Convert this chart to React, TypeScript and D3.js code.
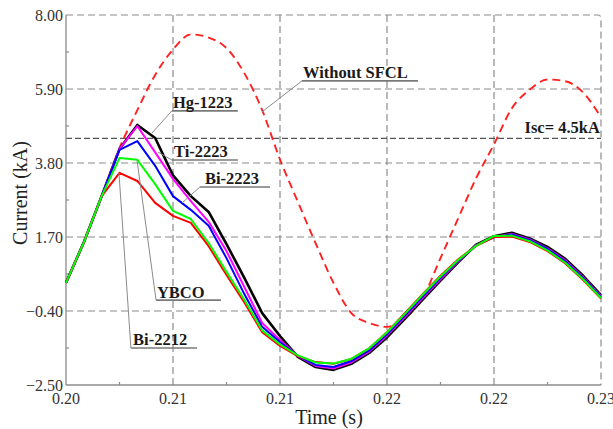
import React from 'react';
import * as d3 from 'd3';

// ---- data (time in s, current in kA) ----
const TIME = [
  0.200, 0.201, 0.202, 0.203, 0.204, 0.205, 0.206, 0.207, 0.208, 0.209,
  0.210, 0.211, 0.212, 0.213, 0.214, 0.215, 0.216, 0.217, 0.218, 0.219,
  0.220, 0.221, 0.222, 0.223, 0.224, 0.225, 0.226, 0.227, 0.228, 0.229, 0.230,
];

const WITHOUT_SFCL = [
  0.40, 1.55, 2.86, 4.22, 5.30, 6.30, 7.02, 7.45, 7.36, 7.06,
  6.35, 5.30, 3.90, 2.70, 1.52, 0.40, -0.46, -0.74, -0.85, -0.60,
  -0.03, 1.10, 2.24, 3.37, 4.33, 5.35, 5.88, 6.17, 6.12, 5.80, 5.10,
];

const HG_1223 = [
  0.40, 1.55, 2.86, 4.20, 4.88, 4.51, 3.45, 2.86, 2.41, 1.50,
  0.54, -0.46, -1.11, -1.70, -1.99, -2.07, -1.90, -1.59, -1.15, -0.62,
  -0.08, 0.46, 0.99, 1.48, 1.72, 1.82, 1.66, 1.42, 1.08, 0.60, 0.05,
];

const TI_2223 = [
  0.40, 1.55, 2.86, 4.20, 4.85, 4.10, 3.35, 2.72, 2.13, 1.30,
  0.28, -0.74, -1.22, -1.68, -1.96, -2.03, -1.86, -1.55, -1.10, -0.57,
  -0.03, 0.50, 1.01, 1.47, 1.70, 1.79, 1.63, 1.38, 1.04, 0.56, 0.02,
];

const BI_2223 = [
  0.40, 1.55, 2.86, 4.17, 4.42, 3.72, 2.86, 2.47, 2.02, 1.10,
  0.08, -0.85, -1.28, -1.67, -1.93, -1.99, -1.82, -1.52, -1.06, -0.53,
  0.01, 0.54, 1.03, 1.46, 1.69, 1.77, 1.61, 1.36, 1.01, 0.53, 0.00,
];

const YBCO = [
  0.40, 1.55, 2.86, 3.94, 3.89, 3.20, 2.44, 2.21, 1.53, 0.71,
  -0.08, -0.95, -1.35, -1.66, -1.86, -1.89, -1.76, -1.46, -1.01, -0.48,
  0.06, 0.58, 1.05, 1.45, 1.73, 1.74, 1.58, 1.32, 0.97, 0.50, -0.03,
];

const BI_2212 = [
  0.40, 1.55, 2.86, 3.52, 3.29, 2.67, 2.30, 2.10, 1.44, 0.62,
  -0.16, -1.00, -1.39, -1.68, -1.85, -1.90, -1.76, -1.46, -1.00, -0.46,
  0.08, 0.60, 1.07, 1.45, 1.70, 1.71, 1.56, 1.30, 0.95, 0.48, -0.05,
];

const Y_TICKS = [8.0, 5.9, 3.8, 1.7, -0.4, -2.5];
const X_TICKS = [0.200, 0.206, 0.212, 0.218, 0.224, 0.230];
const ISC_LEVEL = 4.5;
const ISC_LABEL = 'Isc= 4.5kA';

// annotation anchors in data units
const ANNOTATIONS = [
  { text: 'Without SFCL', tx: 0.21329, ty: 6.21, u0: 0.21323, u1: 0.21974, uy: 6.13, px: 0.21099, py: 5.25 },
  { text: 'Hg-1223', tx: 0.20600, ty: 5.36, u0: 0.20594, u1: 0.20964, uy: 5.28, px: 0.20482, py: 4.65 },
  { text: 'Ti-2223', tx: 0.20606, ty: 3.97, u0: 0.20594, u1: 0.20964, uy: 3.885, px: 0.20516, py: 4.11 },
  { text: 'Bi-2223', tx: 0.20779, ty: 3.20, u0: 0.20751, u1: 0.21144, uy: 3.12, px: 0.20651, py: 2.67 },
  { text: 'YBCO', tx: 0.20510, ty: -0.03, u0: 0.20505, u1: 0.20869, uy: -0.09, px: 0.20398, py: 3.89 },
  { text: 'Bi-2212', tx: 0.20376, ty: -1.365, u0: 0.20364, u1: 0.20735, uy: -1.45, px: 0.20297, py: 3.52 },
];

const SERIES = [
  { name: 'Hg-1223', values: HG_1223, color: '#000000', width: 2.6 },
  { name: 'Ti-2223', values: TI_2223, color: '#ff00ff', width: 2 },
  { name: 'Bi-2223', values: BI_2223, color: '#0000ff', width: 2 },
  { name: 'Bi-2212', values: BI_2212, color: '#ff0000', width: 2 },
  { name: 'YBCO', values: YBCO, color: '#00ff00', width: 2 },
];

const FONT = 'Liberation Serif, DejaVu Serif, serif';

export default function App() {
  const W = 613;
  const H = 429;
  const x = d3.scaleLinear().domain([0.2, 0.23]).range([66, 601]);
  const y = d3.scaleLinear().domain([-2.5, 8]).range([385, 15]);
  const fmt = d3.format('.2f');

  const lineGen = (vals: number[], curve = d3.curveLinear) =>
    d3
      .line<number>()
      .x((_, i) => x(TIME[i]))
      .y((d) => y(d))
      .curve(curve)(vals) || '';

  const gridColor = '#8c8c8c';
  const x0 = x(0.2), x1 = x(0.23), y0 = y(-2.5), y1 = y(8);

  const xMinor = X_TICKS.slice(0, -1).map((t, i) => (t + X_TICKS[i + 1]) / 2);
  const yMinor = Y_TICKS.slice(0, -1).map((v, i) => (v + Y_TICKS[i + 1]) / 2);

  const frame = d3.path();
  frame.moveTo(x0, y1);
  frame.arcTo(x1, y1, x1, y0, 3);
  frame.lineTo(x1, y0);

  const txt = { fontFamily: FONT } as React.CSSProperties;

  return (
    <svg
      width={W}
      height={H}
      style={{ position: 'absolute', left: 0, top: 0, background: '#fff', fontFamily: FONT }}
    >
      <rect x={0} y={0} width={W} height={H} fill="#fff" />
      {X_TICKS.slice(1, -1).map((t) => (
        <line key={'gx' + t} x1={x(t)} x2={x(t)} y1={y0} y2={y1}
          stroke={gridColor} strokeWidth={1.2} strokeDasharray="7,4" />
      ))}
      {Y_TICKS.slice(1, -1).map((v) => (
        <line key={'gy' + v} x1={x0} x2={x1} y1={y(v)} y2={y(v)}
          stroke={gridColor} strokeWidth={1.2} strokeDasharray="7,4" />
      ))}
      <path d={frame.toString()} fill="none" stroke={gridColor} strokeWidth={1.2} strokeDasharray="7,4" />
      <line x1={x0} x2={x1} y1={y(ISC_LEVEL)} y2={y(ISC_LEVEL)}
        stroke="#555" strokeWidth={1.3} strokeDasharray="6,3" />

      <line x1={x0} x2={x0} y1={y0} y2={y1} stroke={gridColor} strokeWidth={1.3} />
      <line x1={x0} x2={x1} y1={y0} y2={y0} stroke={gridColor} strokeWidth={1.3} />
      {xMinor.map((t) => (
        <line key={'mx' + t} x1={x(t)} x2={x(t)} y1={y0} y2={y0 - 3} stroke={gridColor} strokeWidth={1.2} />
      ))}
      {yMinor.map((v) => (
        <line key={'my' + v} x1={x0} x2={x0 + 3} y1={y(v)} y2={y(v)} stroke={gridColor} strokeWidth={1.2} />
      ))}

      {Y_TICKS.map((v) => (
        <text key={'ty' + v} style={txt} x={x0 - 3} y={y(v)} dy="0.35em" textAnchor="end" fontSize={16} fill="#333">
          {fmt(v)}
        </text>
      ))}
      {X_TICKS.map((t) => (
        <text key={'tx' + t} style={txt} x={x(t)} y={404} textAnchor="middle" fontSize={16} fill="#333">
          {fmt(t)}
        </text>
      ))}

      <text style={txt} x={329} y={424} textAnchor="middle" fontSize={20} fill="#222">Time (s)</text>
      <text style={txt} transform="translate(27,193) rotate(-90)" textAnchor="middle" fontSize={20} fill="#222">
        Current (kA)
      </text>

      <path d={lineGen(WITHOUT_SFCL, d3.curveMonotoneX)} fill="none" stroke="#ff2020"
        strokeWidth={1.9} strokeDasharray="8,5" />

      {SERIES.map((s) => (
        <path key={s.name} d={lineGen(s.values)} fill="none" stroke={s.color}
          strokeWidth={s.width} strokeLinejoin="round" />
      ))}

      {ANNOTATIONS.map((a) => (
        <g key={a.text}>
          <line x1={x(a.u0)} y1={y(a.uy)} x2={x(a.px)} y2={y(a.py)} stroke="#8a8a8a" strokeWidth={1} />
          <line x1={x(a.u0)} x2={x(a.u1)} y1={y(a.uy)} y2={y(a.uy)} stroke="#7a7a7a" strokeWidth={1.6} />
          <text style={txt} x={x(a.tx)} y={y(a.ty)} fontSize={16.5} fontWeight="bold" fill="#1a1a1a">
            {a.text}
          </text>
        </g>
      ))}
      <text style={txt} x={x(0.22994)} y={y(4.65)} textAnchor="end" fontSize={16.5} fontWeight="bold" fill="#1a1a1a">
        {ISC_LABEL}
      </text>
    </svg>
  );
}
